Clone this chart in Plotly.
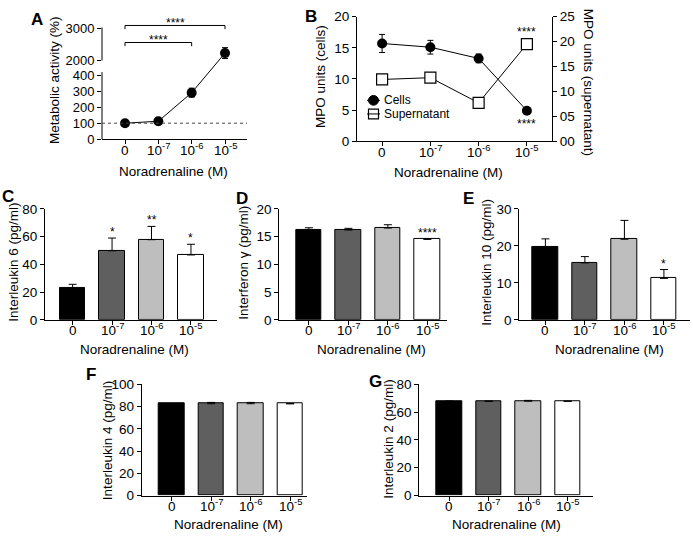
import plotly.graph_objects as go

W, H = 693, 541
FONT = "Liberation Sans, Arial, Helvetica, sans-serif"
TICK = 13.5
TITLE = 13.5

def px(x):
    return x / W

def py(y):
    return 1 - y / H

# ---------------- data ----------------
conc_labels = ["0", "10<sup>-7</sup>", "10<sup>-6</sup>", "10<sup>-5</sup>"]
xpos = [0, 1, 2, 3]

metabolic = [100, 112, 290, 2230]
metabolic_err = [6, 8, 28, 170]
metabolic_ticks = [0, 100, 200, 300, 400, 2000, 3000]

mpo_cells = [15.7, 15.1, 13.3, 4.9]
mpo_cells_err = [1.45, 1.1, 0.7, 0.2]
mpo_super = [12.4, 12.75, 7.7, 19.5]
mpo_super_err = [0.2, 0.3, 0.3, 0.3]
mpo_right_ticks = [0, 5, 10, 15, 20, 25]
mpo_right_labels = ["00", "05", "10", "15", "20", "25"]

il6 = [23.0, 49.8, 57.8, 46.8]
il6_err = [2.6, 9.2, 9.6, 7.7]
il6_sig = ["", "*", "**", "*"]

ifng = [16.2, 16.2, 16.55, 14.5]
ifng_err = [0.4, 0.3, 0.6, 0.15]
ifng_sig = ["", "", "", "****"]

il10 = [19.7, 15.4, 21.8, 11.2]
il10_err = [2.2, 1.7, 5.1, 2.4]
il10_sig = ["", "", "", "*"]

il4 = [82.5, 82.5, 82.5, 82.5]
il4_err = [0, 1.2, 1.2, 0]

il2 = [67.8, 67.8, 67.8, 67.8]
il2_err = [0, 0, 0.6, 0]

bar_colors = ["#000000", "#5f5f5f", "#bebebe", "#ffffff"]

# broken axis transform for panel A (lower 0-400, upper 2000-3000)
def brk(v):
    if v <= 1000:
        return v * 66 / 400
    return 81 + (v - 2000) * 33 / 1000

fig = go.Figure()
annotations = []
shapes = []

def xax(x0, x1, anchor, lo, hi, axis_y):
    name = "x" + anchor[1:]
    # category tick labels as text placed under the axis (keeps baselines aligned)
    for i, lab in zip(xpos, conc_labels):
        annotations.append(dict(text=lab, x=i, y=py(axis_y + 21), xref=name, yref="paper",
                                showarrow=False, xanchor="center", yanchor="bottom",
                                font=dict(size=TICK, family=FONT, color="black")))
    return dict(domain=[px(x0), px(x1)], anchor=anchor, range=[lo, hi],
                tickmode="array", tickvals=xpos, showticklabels=False,
                showline=True, linecolor="black", linewidth=1,
                ticks="outside", ticklen=4, tickwidth=1, tickcolor="black",
                showgrid=False, zeroline=False, fixedrange=True)

def yax(y0, y1, anchor, lo, hi, tv, tt=None, showline=True, size=TICK):
    d = dict(domain=[py(y0), py(y1)], anchor=anchor, range=[lo, hi],
             tickmode="array", tickvals=tv,
             showline=showline, linecolor="black", linewidth=1,
             ticks="outside", ticklen=4, tickwidth=1, tickcolor="black",
             showgrid=False, zeroline=False, tickfont=dict(size=size, family=FONT, color="black"),
             fixedrange=True)
    if tt is not None:
        d["ticktext"] = tt
    return d

def ann(text, x, y, size=TITLE, bold=False, angle=0, xanchor="center", yanchor="middle"):
    annotations.append(dict(text=("<b>%s</b>" % text) if bold else text,
                            x=px(x), y=py(y), xref="paper", yref="paper",
                            showarrow=False, textangle=angle,
                            xanchor=xanchor, yanchor=yanchor,
                            font=dict(size=size, family=FONT, color="black")))

layout_axes = {}

# ---------------- Panel A ----------------
a_y = [brk(v) for v in metabolic]
a_up = [brk(v + e) - brk(v) for v, e in zip(metabolic, metabolic_err)]
a_dn = [brk(v) - brk(v - e) for v, e in zip(metabolic, metabolic_err)]
fig.add_trace(go.Scatter(x=xpos, y=a_y, mode="lines+markers", xaxis="x", yaxis="y",
                         line=dict(color="black", width=1),
                         marker=dict(symbol="circle", size=10, color="black"),
                         error_y=dict(type="data", symmetric=False, array=a_up, arrayminus=a_dn,
                                      color="black", thickness=1, width=3)))
layout_axes["xaxis"] = xax(102, 247, "y", -0.69, 3.66, 136)
layout_axes["yaxis"] = yax(136, 12, "x", 0, 124, [brk(v) for v in metabolic_ticks],
                           [str(v) for v in metabolic_ticks], showline=False, size=13)
# broken y axis line segments
shapes.append(dict(type="line", xref="paper", yref="y", x0=px(102), x1=px(102),
                   y0=0, y1=brk(400) + 3, line=dict(color="black", width=1)))
shapes.append(dict(type="line", xref="paper", yref="y", x0=px(102), x1=px(102),
                   y0=brk(2000), y1=brk(3000) + 1, line=dict(color="black", width=1)))
# dotted 100 % line
shapes.append(dict(type="line", xref="x domain", yref="y", x0=0, x1=1,
                   y0=brk(100), y1=brk(100), line=dict(color="#444444", width=1, dash="dot")))
# significance brackets
for xe, yb in [(3, 117), (2, 99.5)]:
    shapes.append(dict(type="path", xref="x", yref="y",
                       path="M 0,%f L 0,%f L %f,%f L %f,%f" % (yb - 3.8, yb, xe, yb, xe, yb - 3.8),
                       line=dict(color="black", width=1)))
    annotations.append(dict(text="****", x=xe / 2, y=yb, xref="x", yref="y", showarrow=False,
                            yanchor="middle", yshift=2, font=dict(size=12, family=FONT, color="black")))

# ---------------- Panel B ----------------
fig.add_trace(go.Scatter(x=xpos, y=mpo_cells, mode="lines+markers", xaxis="x2", yaxis="y2",
                         line=dict(color="black", width=1),
                         marker=dict(symbol="circle", size=10, color="black"),
                         error_y=dict(type="data", array=mpo_cells_err, color="black",
                                      thickness=1, width=3)))
fig.add_trace(go.Scatter(x=xpos, y=mpo_super, mode="lines+markers", xaxis="x2", yaxis="y3",
                         line=dict(color="black", width=1),
                         marker=dict(symbol="square", size=11, color="white",
                                     line=dict(width=1.2, color="black")),
                         error_y=dict(type="data", array=mpo_super_err, color="black",
                                      thickness=1, width=3)))
layout_axes["xaxis2"] = xax(357, 552, "y2", -0.52, 3.52, 138)
layout_axes["yaxis2"] = yax(138, 10, "x2", 0, 20, [0, 5, 10, 15, 20])
y3 = yax(138, 10, "x2", 0, 25, mpo_right_ticks, mpo_right_labels)
y3.update(overlaying="y2", side="right")
layout_axes["yaxis3"] = y3
annotations.append(dict(text="****", x=3, y=mpo_super[3], xref="x2", yref="y3", showarrow=False,
                        yanchor="middle", yshift=12, font=dict(size=12, family=FONT, color="black")))
annotations.append(dict(text="****", x=3, y=mpo_cells[3], xref="x2", yref="y2", showarrow=False,
                        yanchor="middle", yshift=-13, font=dict(size=12, family=FONT, color="black")))
# manual legend
for yy in (96, 110):
    shapes.append(dict(type="line", xref="paper", yref="paper", x0=px(367), x1=px(380),
                       y0=py(yy), y1=py(yy), line=dict(color="black", width=1)))
shapes.append(dict(type="circle", xref="paper", yref="paper", x0=px(368.5), x1=px(378.5),
                   y0=py(101), y1=py(91), fillcolor="black", line=dict(color="black", width=1)))
shapes.append(dict(type="rect", xref="paper", yref="paper", x0=px(368.5), x1=px(378.5),
                   y0=py(115), y1=py(105), fillcolor="rgba(0,0,0,0)", line=dict(color="black", width=1.2)))
ann("Cells", 382, 95.5, size=12, xanchor="left")
ann("Supernatant", 382, 110.5, size=12, xanchor="left")

# ---------------- Bar panels ----------------
def bar_panel(idx, vals, errs, sig, x0, x1, lo, hi, y0, y1, ymax, ytv):
    xa = "x%d" % idx
    ya = "y%d" % idx
    fig.add_trace(go.Bar(x=xpos, y=vals, width=0.64, xaxis=xa, yaxis=ya,
                         marker=dict(color=bar_colors, line=dict(color="black", width=1)),
                         error_y=dict(type="data", symmetric=False, array=errs,
                                      arrayminus=[0] * len(errs), color="black",
                                      thickness=1, width=4)))
    layout_axes["xaxis%d" % idx] = xax(x0, x1, ya, lo, hi, y0)
    layout_axes["yaxis%d" % idx] = yax(y0, y1, xa, 0, ymax, ytv)
    if sig:
        for i, s in enumerate(sig):
            if s:
                annotations.append(dict(text=s, x=xpos[i], y=vals[i] + errs[i], xref=xa, yref=ya,
                                        showarrow=False, yanchor="middle", yshift=6,
                                        font=dict(size=12, family=FONT, color="black")))

bar_panel(4, il6, il6_err, il6_sig, 45, 217, -0.70, 3.66, 321.7, 207.7, 80, [0, 20, 40, 60, 80])
bar_panel(5, ifng, ifng_err, ifng_sig, 279.3, 446.7, -0.75, 3.49, 321.7, 207.7, 20, [0, 5, 10, 15, 20])
bar_panel(6, il10, il10_err, il10_sig, 519.3, 690, -0.66, 3.66, 321.7, 207.7, 30, [0, 10, 20, 30])
bar_panel(7, il4, il4_err, None, 141.7, 306.7, -0.76, 3.42, 502.5, 388, 100, [0, 20, 40, 60, 80, 100])
bar_panel(8, il2, il2_err, None, 419.3, 593.3, -0.76, 3.65, 502.5, 388, 80, [0, 20, 40, 60, 80])

# ---------------- titles & panel letters ----------------
XT = "Noradrenaline (M)"
ann(XT, 173, 169)
ann(XT, 448, 170)
ann(XT, 134, 352.5)
ann(XT, 371, 352.5)
ann(XT, 609, 352.5)
ann(XT, 228, 532.5)
ann(XT, 506, 532.5)

ann("Metabolic activity (%)", 55, 75, angle=-90)
ann("MPO units (cells)", 320, 72, angle=-90)
ann("MPO units (supernatant)", 588, 77, angle=90)
ann("Interleukin 6 (pg/ml)", 14, 263, angle=-90)
ann("Interferon γ (pg/ml)", 244, 263, angle=-90)
ann("Interleukin 10 (pg/ml)", 487, 263, angle=-90)
ann("Interleukin 4 (pg/ml)", 107.5, 446, angle=-90)
ann("Interleukin 2 (pg/ml)", 389, 445, angle=-90)

for letter, x, y in [("A", 37, 13), ("B", 311, 10), ("C", 8, 195), ("D", 242, 197),
                     ("E", 468, 197), ("F", 91, 378), ("G", 375, 385)]:
    ann(letter, x, y, size=17, bold=True)

fig.update_layout(width=W, height=H, margin=dict(l=0, r=0, t=0, b=0, pad=0),
                  plot_bgcolor="white", paper_bgcolor="white", showlegend=False,
                  font=dict(family=FONT, size=TICK, color="black"),
                  annotations=annotations, shapes=shapes, bargap=0, **layout_axes)

fig.write_html("out.html", config={"displayModeBar": False},
               post_script="document.body.style.margin='0';document.body.style.overflow='hidden';")
